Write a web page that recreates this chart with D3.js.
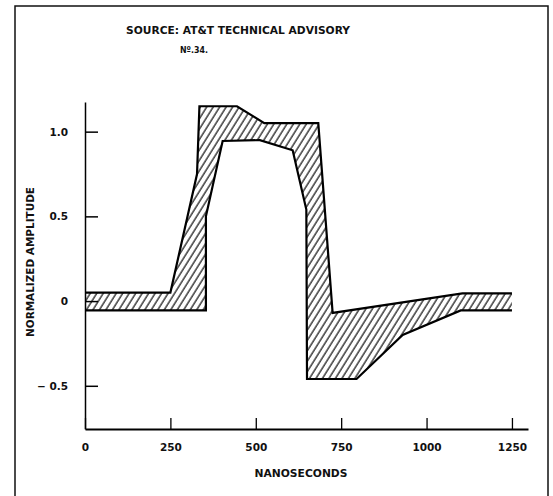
<!DOCTYPE html>
<html>
<head>
<meta charset="utf-8">
<script src="https://cdn.jsdelivr.net/npm/d3@7"></script>
<style>
  html, body { margin: 0; padding: 0; background: #fff; }
  svg { display: block; }
  text { font-family: "DejaVu Sans", "Liberation Sans", Arial, sans-serif; font-weight: bold; fill: #111; }
</style>
</head>
<body>
<script>
// ---- data ----
const titleLines = ["SOURCE: AT&T TECHNICAL ADVISORY", "N\u00BA.34."];
const xLabel = "NANOSECONDS";
const yLabel = "NORMALIZED AMPLITUDE";
const xTicks = [0, 250, 500, 750, 1000, 1250];
const yTicks = [-0.5, 0, 0.5, 1.0];
const yTickLabels = ["\u2212 0.5", "0", "0.5", "1.0"];
// upper limit of the pulse template [ns, amplitude]
const upperEdge = [[0, 0.05], [250, 0.05], [328, 0.75], [335, 1.15], [445, 1.15], [525, 1.05], [683, 1.05], [725, -0.07], [1105, 0.045], [1250, 0.045]];
// lower limit of the pulse template [ns, amplitude]
const lowerEdge = [[0, -0.055], [354, -0.055], [354, 0.5], [403, 0.945], [512, 0.95], [608, 0.89], [648, 0.54], [650, -0.46], [795, -0.46], [930, -0.2], [1100, -0.055], [1250, -0.055]];

// ---- layout ----
const W = 553, H = 496;
const svg = d3.select("body").append("svg").attr("width", W).attr("height", H);

const x = d3.scaleLinear().domain([0, 1297]).range([85, 528]);
const y = d3.scaleLinear().domain([-0.755, 1.175]).range([429, 102]);

// frame
svg.append("path")
  .attr("d", `M15,${H + 2} L15,6 L548,6 L548,${H + 2}`)
  .attr("fill", "none").attr("stroke", "#111").attr("stroke-width", 1.5);

// title
svg.append("text").attr("x", 126).attr("y", 34).style("font-size", "10px")
  .attr("textLength", 224).attr("lengthAdjust", "spacingAndGlyphs").text(titleLines[0]);
svg.append("text").attr("x", 180).attr("y", 53).style("font-size", "9.5px")
  .attr("textLength", 28).attr("lengthAdjust", "spacingAndGlyphs").text(titleLines[1]);

// hatch pattern
const defs = svg.append("defs");
const pat = defs.append("pattern")
  .attr("id", "hatch").attr("patternUnits", "userSpaceOnUse")
  .attr("width", 5.5).attr("height", 10)
  .attr("patternTransform", "rotate(32)");
pat.append("line").attr("x1", 1).attr("y1", 0).attr("x2", 1).attr("y2", 10)
  .attr("stroke", "#000").attr("stroke-width", 1.15);

const line = d3.line().x(d => x(d[0])).y(d => y(d[1]));
const polygon = upperEdge.concat(lowerEdge.slice().reverse());

svg.append("path").attr("d", line(polygon) + "Z")
  .attr("fill", "url(#hatch)").attr("stroke", "none");

svg.append("path").attr("d", line(upperEdge))
  .attr("fill", "none").attr("stroke", "#000").attr("stroke-width", 2.2).attr("stroke-linejoin", "miter");
svg.append("path").attr("d", line(lowerEdge))
  .attr("fill", "none").attr("stroke", "#000").attr("stroke-width", 2.2).attr("stroke-linejoin", "miter");

// axes
const xAxis = d3.axisBottom(x).tickValues(xTicks).tickSizeInner(-11).tickSizeOuter(0).tickPadding(15)
  .tickFormat(d3.format("d"));
const gx = svg.append("g").attr("transform", `translate(0,${y(-0.755)})`).call(xAxis);
gx.select(".domain").attr("stroke", "#000").attr("stroke-width", 2);
gx.selectAll(".tick line").attr("stroke", "#000").attr("stroke-width", 1.3);
gx.selectAll("text").style("font-size", "10.5px").style("font-family", null).attr("fill", "#111");

const yAxis = d3.axisLeft(y).tickValues(yTicks).tickSizeInner(-13).tickSizeOuter(0).tickPadding(17)
  .tickFormat((d, i) => yTickLabels[i]);
const gy = svg.append("g").attr("transform", `translate(${x(0)},0)`).call(yAxis);
gy.select(".domain").attr("stroke", "#000").attr("stroke-width", 1.5);
gy.selectAll(".tick line").attr("stroke", "#000").attr("stroke-width", 1.5);
gy.selectAll("text").style("font-size", "10.5px").style("font-family", null).attr("fill", "#111");

// axis titles
svg.append("text").attr("x", 301).attr("y", 477).attr("text-anchor", "middle")
  .style("font-size", "10px").attr("textLength", 93).attr("lengthAdjust", "spacingAndGlyphs").text(xLabel);
svg.append("text").attr("transform", "translate(34,262) rotate(-90)").attr("text-anchor", "middle")
  .style("font-size", "10px").attr("textLength", 150).attr("lengthAdjust", "spacingAndGlyphs").text(yLabel);
</script>
</body>
</html>
